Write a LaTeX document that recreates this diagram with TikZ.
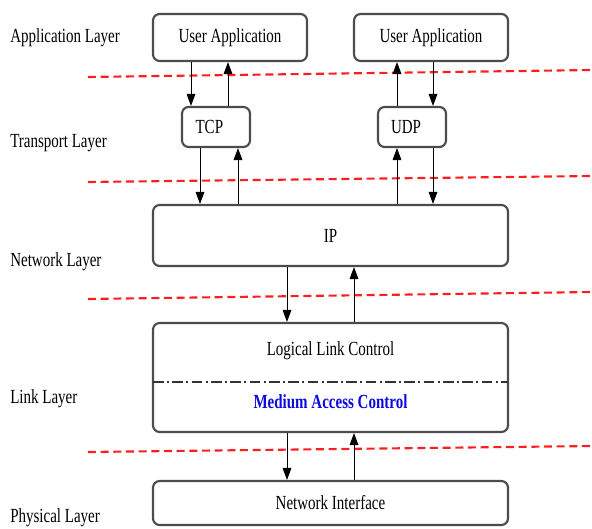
\documentclass[tikz,border=0pt]{standalone}
\usepackage{fontspec}
\setmainfont{Liberation Serif}[FakeStretch=0.75]
\usetikzlibrary{arrows.meta}
\definecolor{macblue}{RGB}{10,10,225}
\definecolor{sepred}{RGB}{255,30,30}
\tikzset{
  layerbox/.style={draw=black!70, line width=1.6pt, rounded corners=5pt,
    fill=white, inner sep=0pt, align=center},
  layername/.style={anchor=west, inner sep=0pt},
  flow/.style={-{Triangle[length=9pt,width=6.5pt]}, line width=0.7pt},
  sepline/.style={sepred, line width=1.6pt, dash pattern=on 6pt off 3.5pt},
  sublayer/.style={black!80, line width=1pt,
    dash pattern=on 8pt off 2.5pt on 1.5pt off 2.5pt},
}
\begin{document}
\begin{tikzpicture}[x=0.75pt, y=-0.75pt, font=\fontsize{15}{17}\selectfont]
\useasboundingbox (0,0) rectangle (592,528);

% layer names on the left
\node[layername] (lapp)  at (10,38)  {Application Layer};
\node[layername] (ltra)  at (10,143) {Transport Layer};
\node[layername] (lnet)  at (10,262) {Network Layer};
\node[layername] (llink) at (10,399) {Link Layer};
\node[layername] (lphy)  at (10,518) {Physical Layer};

% layer boundaries
\draw[sepline] (88,77)  -- (592,70);
\draw[sepline] (88,182) -- (592,176);
\draw[sepline] (88,299) -- (592,292);
\draw[sepline] (88,452) -- (592,446);

% protocol stack
\node[layerbox, minimum width=115.5pt, minimum height=35.25pt] (app1) at (230,37.5) {User Application};
\node[layerbox, minimum width=115.5pt, minimum height=35.25pt] (app2) at (431,37.5) {User Application};
\node[layerbox, minimum width=51pt, minimum height=30pt] (tcp) at (216,127) {TCP\hspace*{10pt}};
\node[layerbox, minimum width=51pt, minimum height=30pt] (udp) at (412,127) {UDP\hspace*{9pt}};
\node[layerbox, minimum width=266.25pt, minimum height=45.75pt] (ip) at (330.5,235.5) {IP};
\node[layerbox, minimum width=266.25pt, minimum height=81.75pt] (link) at (330.5,377.5) {};
\node[layerbox, minimum width=266.25pt, minimum height=33pt] (ni) at (330.5,503) {Network Interface};

% link layer split into its two sublayers
\coordinate (splitL) at (153,382);
\coordinate (splitR) at (508,382);
\draw[sublayer] (splitL) -- (splitR);
\node (llc) at (330.5,351) {Logical Link Control};
\node[text=macblue, font=\fontsize{15}{17}\selectfont\bfseries] (mac) at (330.5,402) {Medium Access Control};

% x positions of the connectors
\coordinate (a1) at (191,0);
\coordinate (a2) at (228,0);
\coordinate (b1) at (200,0);
\coordinate (b2) at (238,0);
\coordinate (u1) at (397,0);
\coordinate (u2) at (433,0);
\coordinate (n1) at (287,0);
\coordinate (n2) at (354,0);

% connectors
\draw[flow] (a1 |- app1.south) -- (a1 |- tcp.north);
\draw[flow] (a2 |- tcp.north) -- (a2 |- app1.south);
\draw[flow] (u1 |- udp.north) -- (u1 |- app2.south);
\draw[flow] (u2 |- app2.south) -- (u2 |- udp.north);
\draw[flow] (b1 |- tcp.south) -- (b1 |- ip.north);
\draw[flow] (b2 |- ip.north) -- (b2 |- tcp.south);
\draw[flow] (u1 |- ip.north) -- (u1 |- udp.south);
\draw[flow] (u2 |- udp.south) -- (u2 |- ip.north);
\draw[flow] (n1 |- ip.south) -- (n1 |- link.north);
\draw[flow] (n2 |- link.north) -- (n2 |- ip.south);
\draw[flow] (n1 |- link.south) -- (n1 |- ni.north);
\draw[flow] (n2 |- ni.north) -- (n2 |- link.south);
\end{tikzpicture}
\end{document}
